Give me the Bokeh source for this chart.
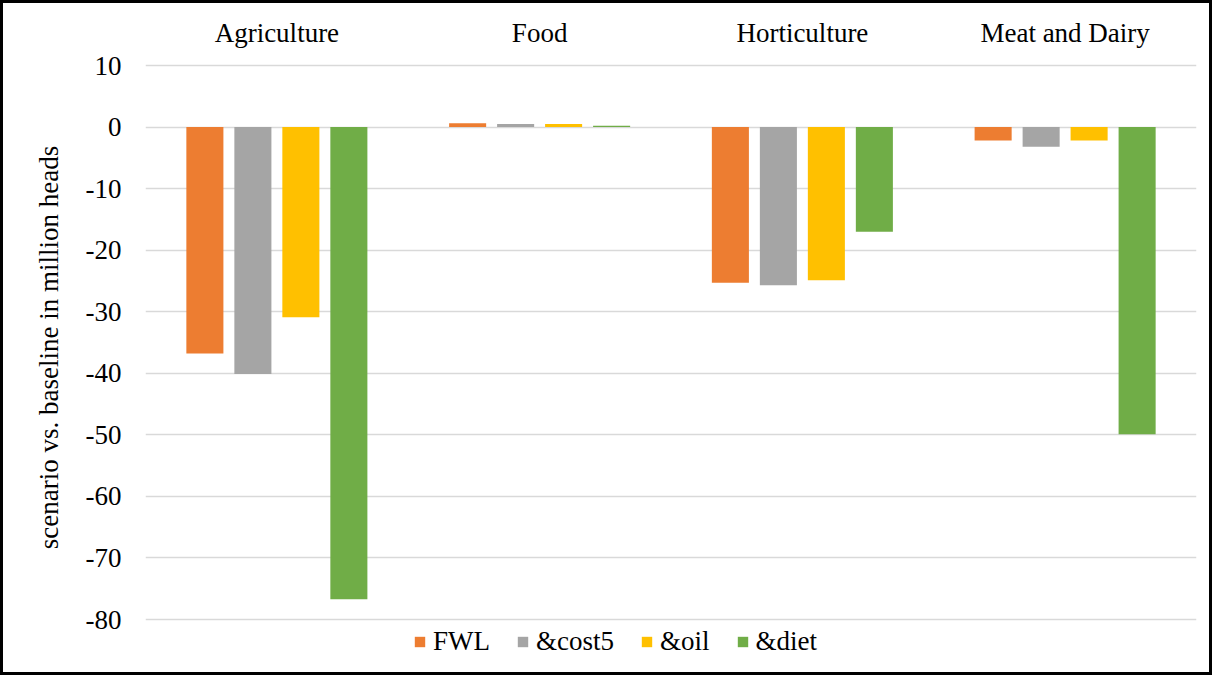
from bokeh.plotting import figure
from bokeh.models import (FactorRange, Range1d, FixedTicker, Legend, LegendItem,
                          PrintfTickFormatter)
from bokeh.core.properties import value
from bokeh.transform import dodge
from bokeh.embed import file_html
from bokeh.resources import INLINE

# Change versus baseline (million heads) by sector and scenario
categories = ["Agriculture", "Food", "Horticulture", "Meat and Dairy"]
fwl = [-36.8, 0.6, -25.3, -2.2]
cost5 = [-40.1, 0.5, -25.7, -3.2]
oil = [-30.9, 0.5, -24.9, -2.2]
diet = [-76.7, 0.2, -17.0, -49.9]
series_names = ["FWL", "&cost5", "&oil", "&diet"]
y_ticks = [10, 0, -10, -20, -30, -40, -50, -60, -70, -80]

colors = ["#ED7D31", "#A5A5A5", "#FFC000", "#70AD47"]
FONT = "Liberation Serif"

# The plot frame spans the whole height so the header labels and the
# legend sit inside it; the value axis only ticks from -80 to 10.
PX_PER_UNIT = 554 / 90.0
y_top = 10 + 43 / PX_PER_UNIT
y_bottom = 10 - 607 / PX_PER_UNIT
header_y = 10 + 33 / PX_PER_UNIT

p = figure(
    x_range=FactorRange(*categories),
    y_range=Range1d(y_bottom, y_top),
    frame_width=1051, frame_height=650,
    x_axis_location=None,
    output_backend="svg",
    toolbar_location=None,
    min_border_left=142, min_border_right=13,
    min_border_top=19, min_border_bottom=0,
)
p.styles = {"border": "3px solid black"}
p.outline_line_color = None
p.background_fill_color = "white"
p.border_fill_color = "white"

source = dict(cat=categories, FWL=fwl, cost5=cost5, oil=oil, diet=diet)
keys = ["FWL", "cost5", "oil", "diet"]
offsets = [-0.274, -0.0913, 0.0913, 0.274]

renderers = []
for key, off, col in zip(keys, offsets, colors):
    r = p.vbar(x=dodge("cat", off, range=p.x_range), top=key, bottom=0,
               width=0.141, source=source, fill_color=col, line_color=None)
    renderers.append(r)

# sector names across the top
p.text(x=categories, y=[header_y] * len(categories), text=categories,
       text_font=value(FONT), text_font_size="27px", text_color="black",
       text_align="center", text_baseline="alphabetic")

# grid
p.xgrid.grid_line_color = None
p.ygrid.grid_line_color = "#d9d9d9"
p.ygrid.grid_line_width = 1.5
p.yaxis.ticker = FixedTicker(ticks=y_ticks)
p.yaxis.formatter = PrintfTickFormatter(format="%d")

# y axis
p.yaxis.axis_line_color = None
p.yaxis.major_tick_line_color = None
p.yaxis.minor_tick_line_color = None
p.yaxis.major_tick_out = 0
p.yaxis.major_label_standoff = 24
p.yaxis.major_label_text_font = FONT
p.yaxis.major_label_text_font_size = "27px"
p.yaxis.major_label_text_color = "black"
p.yaxis.axis_label = "scenario vs. baseline in million heads"
p.yaxis.axis_label_text_font = FONT
p.yaxis.axis_label_text_font_size = "27px"
p.yaxis.axis_label_text_font_style = "normal"
p.yaxis.axis_label_text_color = "black"
p.yaxis.axis_label_standoff = 19

legend = Legend(
    items=[LegendItem(label=n, renderers=[r]) for n, r in zip(series_names, renderers)],
    orientation="horizontal",
    location=(268, 15),
    glyph_width=13, glyph_height=13,
    label_standoff=7, spacing=26,
    padding=0, margin=0,
    label_text_font=FONT, label_text_font_size="27px",
    label_text_color="black",
    border_line_color=None, background_fill_alpha=0,
)
p.add_layout(legend, "center")

open("out.html", "w").write(file_html(p, INLINE))
